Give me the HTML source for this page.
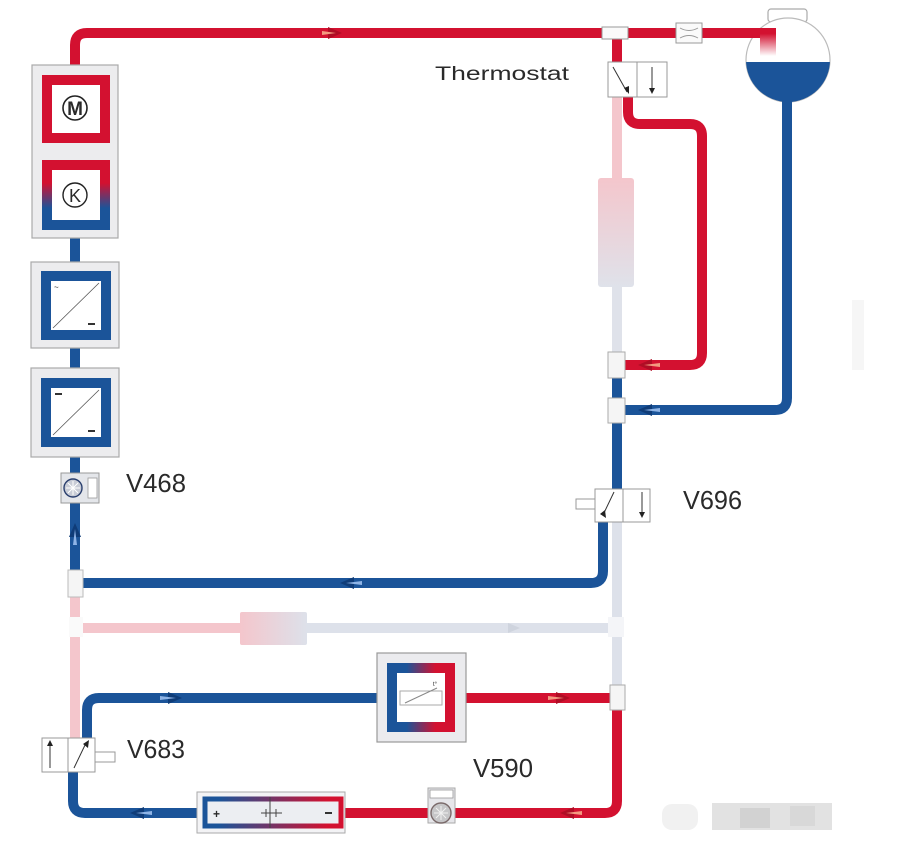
<!DOCTYPE html>
<html><head><meta charset="utf-8"><style>
html,body{margin:0;padding:0;background:#fff;}
svg{display:block;}
text{font-family:"Liberation Sans","DejaVu Sans",sans-serif;fill:#2a2a2a;}
</style></head><body>
<svg width="906" height="852" viewBox="0 0 906 852" xmlns="http://www.w3.org/2000/svg">
<defs>
 <linearGradient id="kg" x1="0" y1="0" x2="0" y2="1"><stop offset="0.3" stop-color="#d31130"/><stop offset="0.72" stop-color="#1b5499"/></linearGradient>
 <linearGradient id="hx" x1="0" y1="0" x2="1" y2="0"><stop offset="0.25" stop-color="#1b5499"/><stop offset="0.75" stop-color="#d31130"/></linearGradient>
 <linearGradient id="bat" x1="0" y1="0" x2="1" y2="0"><stop offset="0.1" stop-color="#1b5499"/><stop offset="0.9" stop-color="#d31130"/></linearGradient>
 <linearGradient id="filt" x1="0" y1="0" x2="0" y2="1"><stop offset="0" stop-color="#f4c6cc"/><stop offset="1" stop-color="#dfe2ea"/></linearGradient>
 <linearGradient id="fz" x1="0" y1="0" x2="1" y2="0"><stop offset="0" stop-color="#f4c6cc"/><stop offset="1" stop-color="#dde1ea"/></linearGradient>
 <linearGradient id="tin" x1="0" y1="0" x2="0" y2="1"><stop offset="0.2" stop-color="#d31130"/><stop offset="1" stop-color="#fff"/></linearGradient>
 <clipPath id="tank"><circle cx="788" cy="60" r="42"/></clipPath>
</defs>

<!-- watermark / faint blocks -->
<rect x="662" y="804" width="36" height="26" rx="10" fill="#f1f1f1"/>
<rect x="712" y="803" width="120" height="27" fill="#e2e2e2"/>
<rect x="740" y="808" width="30" height="20" fill="#d2d2d2"/>
<rect x="790" y="806" width="25" height="20" fill="#d8d8d8"/>
<rect x="852" y="300" width="12" height="70" fill="#f6f6f6"/>

<!-- faded pipes -->
<g fill="none" stroke-width="10">
 <path d="M617,97 V180" stroke="#f4c6cc"/>
 <path d="M617,285 V355" stroke="#dfe2ea"/>
 <path d="M617,522 V690" stroke="#dde1ea"/>
 <path d="M75,597 V740" stroke="#f4c6cc"/>
 <path d="M83,628 H245" stroke="#f4c6cc"/>
 <path d="M305,628 H610" stroke="#dde1ea"/>
</g>
<rect x="598" y="178" width="36" height="109" rx="3" fill="url(#filt)"/>
<rect x="240" y="612" width="67" height="33" rx="2" fill="url(#fz)"/>
<rect x="608" y="617" width="16" height="20" fill="#f4f5f8"/>
<rect x="69" y="617" width="14" height="20" fill="#fafafa"/>
<polygon points="508,623 520,628 508,633" fill="#cfd4de"/>

<!-- tank -->
<rect x="768" y="9" width="39" height="13" rx="3" fill="#fff" stroke="#aaa" stroke-width="1.2"/>
<circle cx="788" cy="60" r="42" fill="#fff" stroke="#bbb" stroke-width="1.2"/>
<rect x="740" y="62" width="100" height="50" fill="#1b5499" clip-path="url(#tank)"/>

<!-- solid pipes -->
<g fill="none" stroke-width="10">
 <!-- top red -->
 <path d="M75,68 V45 Q75,33 87,33 H764" stroke="#d31130"/>
 <path d="M617,39 V64" stroke="#d31130"/>
 <path d="M628,96 V112 Q628,124 640,124 H690 Q702,124 702,136 V353 Q702,365 690,365 H624" stroke="#d31130"/>
 <!-- left red between M and K -->
 <path d="M75,140 V165" stroke="#d31130"/>
 <!-- left blue vertical -->
 <path d="M75,225 V275" stroke="#1b5499"/>
 <path d="M75,338 V382" stroke="#1b5499"/>
 <path d="M75,445 V572" stroke="#1b5499"/>
 <!-- tank return blue -->
 <path d="M787,100 V398 Q787,410 775,410 H624" stroke="#1b5499"/>
 <path d="M617,376 V400" stroke="#1b5499"/>
 <path d="M617,421 V492" stroke="#1b5499"/>
 <!-- V696 out -->
 <path d="M603,520 V571 Q603,583 591,583 H82" stroke="#1b5499"/>
 <!-- V683 blue -->
 <path d="M87,740 V710 Q87,698 99,698 H390" stroke="#1b5499"/>
 <path d="M73,770 V801 Q73,813 85,813 H205" stroke="#1b5499"/>
 <!-- red right bottom -->
 <path d="M452,698 H612" stroke="#d31130"/>
 <path d="M617,708 V801 Q617,813 605,813 H340" stroke="#d31130"/>
</g>
<rect x="760" y="28" width="16" height="28" fill="url(#tin)"/>

<!-- arrows -->
<g>
 <polygon points="328,27 342,33 328,39" fill="#b00d25"/><polygon points="322,31 336,33 322,35" fill="#f39a80"/>
 <polygon points="652,359 638,365 652,371" fill="#b00d25"/><polygon points="660,363 644,365 660,367" fill="#f39a80"/>
 <polygon points="652,404 638,410 652,416" fill="#0f3c78"/><polygon points="660,408 644,410 660,412" fill="#8fb4e6"/>
 <polygon points="354,577 340,583 354,589" fill="#0f3c78"/><polygon points="362,581 346,583 362,585" fill="#8fb4e6"/>
 <polygon points="69,537 75,523 81,537" fill="#0f3c78"/><polygon points="73,545 75,529 77,545" fill="#8fb4e6"/>
 <polygon points="168,692 182,698 168,704" fill="#0f3c78"/><polygon points="160,696 176,698 160,700" fill="#8fb4e6"/>
 <polygon points="144,807 130,813 144,819" fill="#0f3c78"/><polygon points="152,811 136,813 152,815" fill="#8fb4e6"/>
 <polygon points="556,692 570,698 556,704" fill="#b00d25"/><polygon points="548,696 564,698 548,700" fill="#f39a80"/>
 <polygon points="574,807 560,813 574,819" fill="#b00d25"/><polygon points="582,811 566,813 582,815" fill="#f39a80"/>
</g>

<!-- top T and restrictor -->
<rect x="602" y="27" width="26" height="12" fill="#fafafa" stroke="#999" stroke-width="1"/>
<rect x="676" y="23" width="26" height="20" fill="#fafafa" stroke="#999" stroke-width="1"/>
<path d="M680,28 Q689,33 698,28 M680,38 Q689,33 698,38" fill="none" stroke="#999" stroke-width="1"/>

<!-- thermostat valve -->
<rect x="608" y="62" width="59" height="35" fill="#fff" stroke="#999" stroke-width="1"/>
<line x1="637" y1="62" x2="637" y2="97" stroke="#999" stroke-width="1"/>
<line x1="613" y1="67" x2="627" y2="92" stroke="#333" stroke-width="1"/>
<polygon points="624,88 629,94 629,86" fill="#222"/>
<line x1="652" y1="67" x2="652" y2="92" stroke="#333" stroke-width="1"/>
<polygon points="649,88 652,94 655,88" fill="#222"/>

<!-- Ts right -->
<rect x="608" y="352" width="17" height="26" fill="#f5f5f5" stroke="#aaa" stroke-width="1"/>
<rect x="608" y="398" width="17" height="25" fill="#f5f5f5" stroke="#aaa" stroke-width="1"/>
<rect x="610" y="685" width="15" height="25" fill="#f5f5f5" stroke="#aaa" stroke-width="1"/>
<rect x="68" y="570" width="15" height="27" fill="#f5f5f5" stroke="#bbb" stroke-width="1"/>

<!-- V696 -->
<rect x="576" y="499" width="19" height="10" fill="#fff" stroke="#999" stroke-width="1"/>
<rect x="595" y="489" width="55" height="33" fill="#fff" stroke="#999" stroke-width="1"/>
<line x1="623" y1="489" x2="623" y2="522" stroke="#999" stroke-width="1"/>
<line x1="603" y1="515" x2="614" y2="492" stroke="#333" stroke-width="1"/>
<polygon points="600,514 606,518 605,510" fill="#222"/>
<line x1="642" y1="492" x2="642" y2="516" stroke="#333" stroke-width="1"/>
<polygon points="639,512 642,518 645,512" fill="#222"/>

<!-- Box 1: M and K -->
<rect x="32" y="65" width="86" height="173" fill="#ececee" stroke="#aaa" stroke-width="1.2"/>
<rect x="47" y="80" width="58" height="58" fill="#fff" stroke="#d31130" stroke-width="10"/>
<rect x="47" y="165" width="58" height="60" fill="#fff" stroke="url(#kg)" stroke-width="10"/>
<circle cx="75" cy="108" r="12" fill="#fff" stroke="#222" stroke-width="1.6"/>
<text x="75" y="115" font-size="19" font-weight="bold" text-anchor="middle">M</text>
<circle cx="75" cy="195" r="12" fill="#fff" stroke="#222" stroke-width="1.4"/>
<text x="75" y="202" font-size="18" text-anchor="middle">K</text>

<!-- Box 2 -->
<rect x="31" y="262" width="88" height="86" fill="#ececee" stroke="#aaa" stroke-width="1.2"/>
<rect x="46" y="276" width="60" height="59" fill="#fff" stroke="#1b5499" stroke-width="10"/>
<line x1="53" y1="328" x2="99" y2="283" stroke="#555" stroke-width="0.8"/>
<text x="54" y="290" font-size="8">~</text>
<rect x="88" y="323" width="7" height="2" fill="#333"/>
<!-- Box 3 -->
<rect x="31" y="368" width="88" height="89" fill="#ececee" stroke="#aaa" stroke-width="1.2"/>
<rect x="46" y="383" width="60" height="59" fill="#fff" stroke="#1b5499" stroke-width="10"/>
<line x1="53" y1="435" x2="99" y2="390" stroke="#555" stroke-width="0.8"/>
<rect x="55" y="393" width="7" height="2" fill="#333"/>
<rect x="88" y="430" width="7" height="2" fill="#333"/>

<!-- V468 -->
<rect x="61" y="473" width="38" height="30" fill="#e4e6ea" stroke="#999" stroke-width="1"/>
<rect x="88" y="478" width="9" height="20" fill="#fff" stroke="#999" stroke-width="0.8"/>
<circle cx="73" cy="488" r="9" fill="#c8ccd6" stroke="#2a3f6e" stroke-width="1.4"/>
<path d="M66,488 H80 M73,481 V495 M68,483 L78,493 M78,483 L68,493" stroke="#fff" stroke-width="1"/>

<!-- V683 -->
<rect x="42" y="738" width="53" height="34" fill="#fff" stroke="#999" stroke-width="1"/>
<line x1="68" y1="738" x2="68" y2="772" stroke="#999" stroke-width="1"/>
<rect x="95" y="752" width="20" height="10" fill="#fff" stroke="#999" stroke-width="1"/>
<line x1="50" y1="768" x2="50" y2="742" stroke="#333" stroke-width="1"/>
<polygon points="47,746 50,740 53,746" fill="#222"/>
<line x1="74" y1="768" x2="86" y2="743" stroke="#333" stroke-width="1"/>
<polygon points="83,744 89,740 88,748" fill="#222"/>

<!-- battery / cooler -->
<rect x="197" y="792" width="148" height="41" fill="#f3f3f5" stroke="#aaa" stroke-width="1"/>
<rect x="205" y="799" width="136" height="27" fill="#eceef2" stroke="url(#bat)" stroke-width="5"/>
<line x1="270" y1="797" x2="270" y2="828" stroke="#444" stroke-width="1"/>
<text x="213" y="818" font-size="12" font-weight="bold">+</text>
<rect x="325" y="812" width="7" height="2" fill="#333"/>
<path d="M261,813 H282 M266,809 V817 M276,809 V817" stroke="#444" stroke-width="1"/>

<!-- V590 pump -->
<rect x="428" y="788" width="27" height="35" fill="#e6e6ea" stroke="#aaa" stroke-width="1"/>
<rect x="430" y="790" width="23" height="8" fill="#fff" stroke="#999" stroke-width="0.8"/>
<circle cx="441" cy="813" r="10" fill="#c6c6c8" stroke="#7a6a6a" stroke-width="1.4"/>
<path d="M434,813 H448 M441,806 V820 M436,808 L446,818 M446,808 L436,818" stroke="#f0f0f0" stroke-width="1"/>

<!-- heat exchanger -->
<rect x="377" y="653" width="89" height="89" fill="#ebebee" stroke="#999" stroke-width="1.2"/>
<rect x="392" y="668" width="58" height="59" fill="#fff" stroke="url(#hx)" stroke-width="10"/>
<rect x="400" y="691" width="42" height="14" fill="none" stroke="#aaa" stroke-width="1"/>
<line x1="405" y1="703" x2="437" y2="688" stroke="#888" stroke-width="1"/>
<text x="433" y="686" font-size="6" fill="#666">t°</text>

<!-- labels -->
<text x="435" y="80" font-size="19" textLength="134" lengthAdjust="spacingAndGlyphs">Thermostat</text>
<text x="126" y="492" font-size="26" textLength="60" lengthAdjust="spacingAndGlyphs">V468</text>
<text x="683" y="509" font-size="26" textLength="59" lengthAdjust="spacingAndGlyphs">V696</text>
<text x="127" y="758" font-size="26" textLength="58" lengthAdjust="spacingAndGlyphs">V683</text>
<text x="473" y="777" font-size="26" textLength="60" lengthAdjust="spacingAndGlyphs">V590</text>
</svg>
</body></html>
